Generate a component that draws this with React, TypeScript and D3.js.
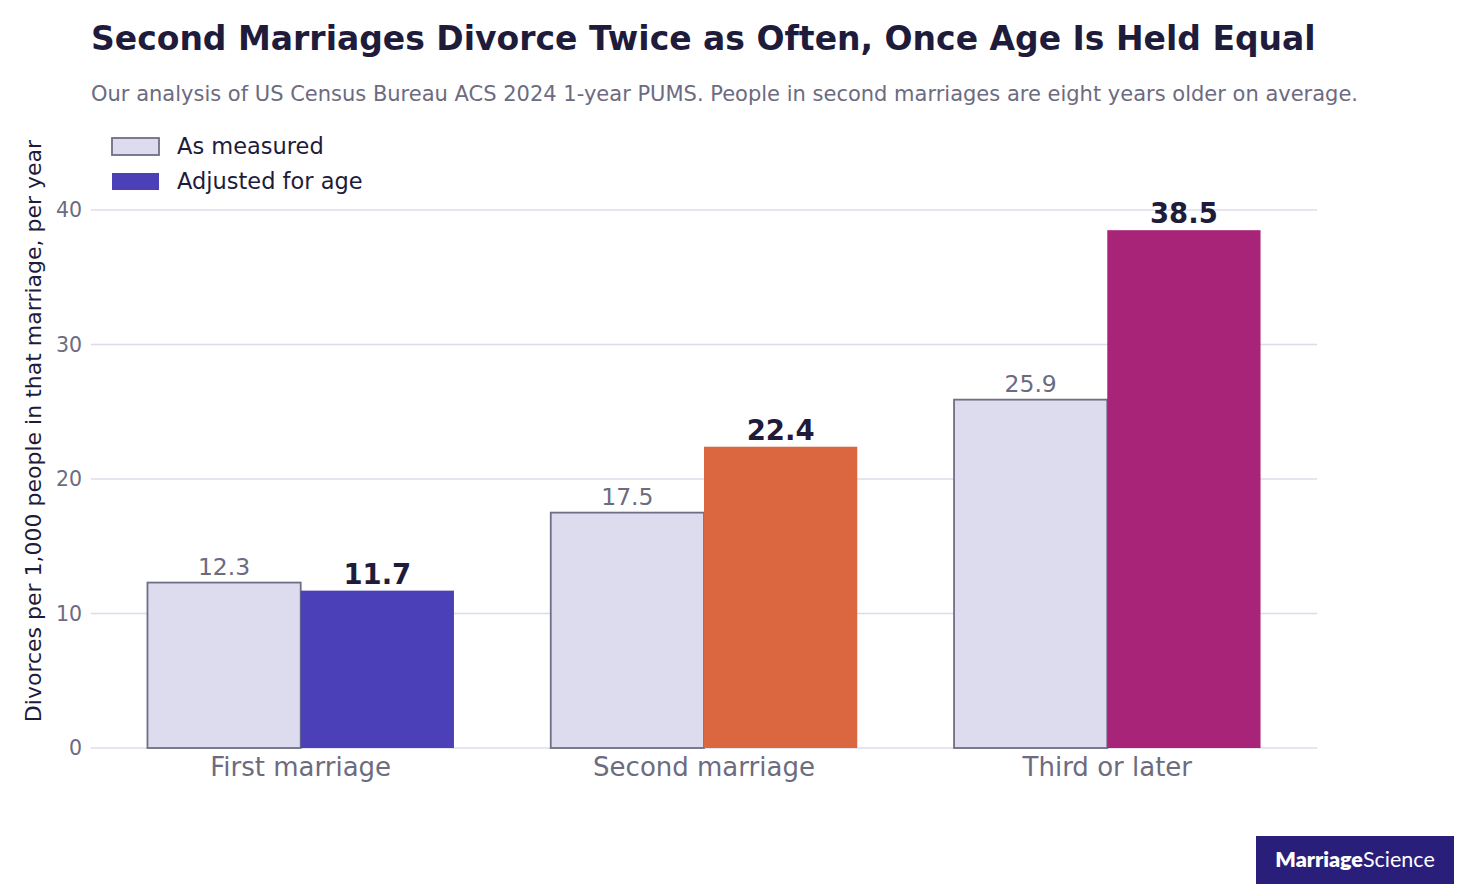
import { useRef, useEffect } from 'react';
import * as d3 from 'd3';

const CATEGORIES = ['First marriage', 'Second marriage', 'Third or later'];
const MEASURED = [12.3, 17.5, 25.9];
const ADJUSTED = [11.7, 22.4, 38.5];
const ADJUSTED_COLORS = ['#4b40b8', '#da6740', '#a72478'];
const Y_TICKS = [0, 10, 20, 30, 40];

const W = 1472;
const H = 896;
const FONT = 'DejaVu Sans, Verdana, sans-serif';
const COLOR_TITLE = '#1e1b3b';
const COLOR_MUTED = '#6c6b80';
const COLOR_GRID = '#dcdbea';
const COLOR_MEASURED = '#dcdcee';
const COLOR_MEASURED_STROKE = '#6f6e86';
const BAR_W = 0.38;

export default function App() {
  const svgRef = useRef<SVGSVGElement>(null);

  useEffect(() => {
    const svg = svgRef.current;
    if (!svg) return;
    const root = d3.select(svg);
    root.selectAll('*').remove();

    const x = d3.scaleLinear().domain([-0.52, 2.52]).range([91, 1317]);
    const y = d3.scaleLinear().domain([0, 40]).range([748, 210]);
    const barPx = x(BAR_W) - x(0);

    // Title + subtitle
    root.append('text')
      .attr('x', 91).attr('y', 50)
      .attr('font-family', FONT).attr('font-size', '33px').attr('font-weight', 700)
      .attr('fill', COLOR_TITLE)
      .text('Second Marriages Divorce Twice as Often, Once Age Is Held Equal');
    root.append('text')
      .attr('x', 91).attr('y', 101)
      .attr('font-family', FONT).attr('font-size', '21px')
      .attr('fill', COLOR_MUTED)
      .text('Our analysis of US Census Bureau ACS 2024 1-year PUMS. People in second marriages are eight years older on average.');

    // Grid
    root.selectAll('.grid')
      .data(Y_TICKS)
      .join('line')
      .attr('x1', 91).attr('x2', 1317)
      .attr('y1', (d) => y(d)).attr('y2', (d) => y(d))
      .attr('stroke', COLOR_GRID).attr('stroke-width', 1.5);

    // Y tick labels
    root.selectAll('.ytick')
      .data(Y_TICKS)
      .join('text')
      .attr('x', 82).attr('y', (d) => y(d))
      .attr('dy', '0.35em')
      .attr('text-anchor', 'end')
      .attr('font-family', FONT).attr('font-size', '20.5px')
      .attr('fill', COLOR_MUTED)
      .text((d) => String(d));

    // Y axis label
    root.append('text')
      .attr('transform', `translate(41,${(140 + 722) / 2}) rotate(-90)`)
      .attr('text-anchor', 'middle')
      .attr('font-family', FONT).attr('font-size', '22px')
      .attr('fill', COLOR_TITLE)
      .text('Divorces per 1,000 people in that marriage, per year');

    // Bars
    CATEGORIES.forEach((cat, i) => {
      const m = MEASURED[i];
      const a = ADJUSTED[i];
      const xm = x(i - BAR_W);
      const xa = x(i);

      root.append('rect')
        .attr('x', xm).attr('y', y(m))
        .attr('width', barPx).attr('height', y(0) - y(m))
        .attr('fill', COLOR_MEASURED)
        .attr('stroke', COLOR_MEASURED_STROKE).attr('stroke-width', 1.8);

      root.append('rect')
        .attr('x', xa).attr('y', y(a))
        .attr('width', barPx).attr('height', y(0) - y(a))
        .attr('fill', ADJUSTED_COLORS[i]);

      root.append('text')
        .attr('x', xm + barPx / 2).attr('y', y(m) - 8)
        .attr('text-anchor', 'middle')
        .attr('font-family', FONT).attr('font-size', '23.5px')
        .attr('fill', COLOR_MUTED)
        .text(m.toFixed(1));

      root.append('text')
        .attr('x', xa + barPx / 2).attr('y', y(a) - 7)
        .attr('text-anchor', 'middle')
        .attr('font-family', FONT).attr('font-size', '27.5px').attr('font-weight', 700)
        .attr('fill', COLOR_TITLE)
        .text(a.toFixed(1));

      root.append('text')
        .attr('x', x(i)).attr('y', 776)
        .attr('text-anchor', 'middle')
        .attr('font-family', FONT).attr('font-size', '26px')
        .attr('fill', COLOR_MUTED)
        .text(cat);
    });

    // Legend
    const legend = [
      { label: 'As measured', fill: COLOR_MEASURED, stroke: COLOR_MEASURED_STROKE, y: 138 },
      { label: 'Adjusted for age', fill: ADJUSTED_COLORS[0], stroke: 'none', y: 173 },
    ];
    legend.forEach((d) => {
      root.append('rect')
        .attr('x', 112).attr('y', d.y)
        .attr('width', 47).attr('height', 17)
        .attr('fill', d.fill)
        .attr('stroke', d.stroke).attr('stroke-width', 1.8);
      root.append('text')
        .attr('x', 177).attr('y', d.y + 16)
        .attr('font-family', FONT).attr('font-size', '22.5px')
        .attr('fill', COLOR_TITLE)
        .text(d.label);
    });

    // Logo
    root.append('rect')
      .attr('x', 1256).attr('y', 836)
      .attr('width', 198).attr('height', 48)
      .attr('fill', '#291e7a');
    const logo = root.append('text')
      .attr('x', 1355).attr('y', 867)
      .attr('text-anchor', 'middle')
      .attr('font-family', 'Lato, Inter, sans-serif').attr('font-size', '21.5px')
      .attr('fill', '#ffffff');
    logo.append('tspan').attr('font-weight', 800).text('Marriage');
    logo.append('tspan').attr('font-weight', 400).text('Science');
  }, []);

  return (
    <svg
      ref={svgRef}
      width={W}
      height={H}
      viewBox={`0 0 ${W} ${H}`}
      style={{ position: 'absolute', left: 0, top: 0, background: '#ffffff' }}
    />
  );
}
